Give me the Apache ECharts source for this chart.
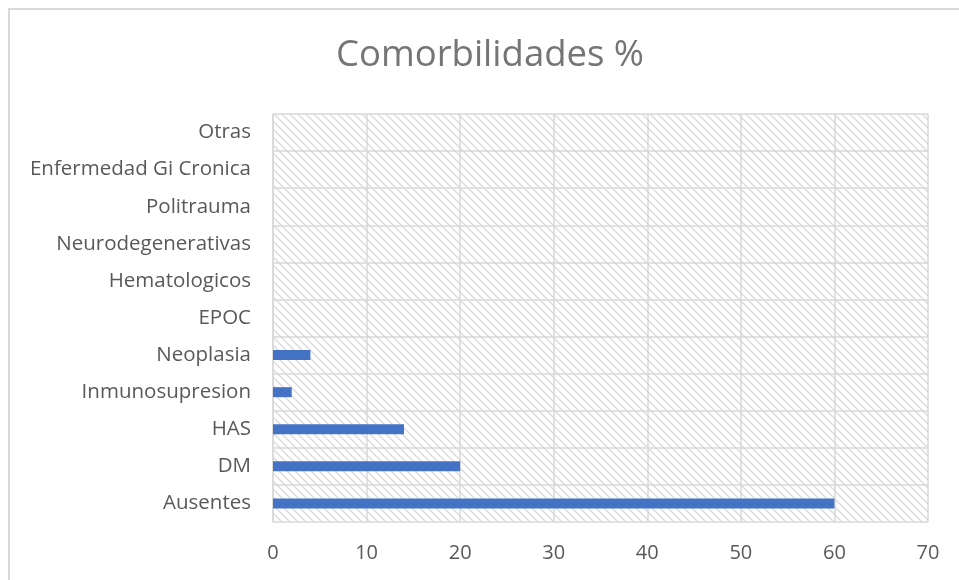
<!DOCTYPE html>
<html>
<head>
<meta charset="utf-8">
<script src="https://cdn.jsdelivr.net/npm/echarts@6/dist/echarts.min.js"></script>
<style>
html,body{margin:0;padding:0;background:#fff;}
#chart{width:959px;height:580px;}
</style>
</head>
<body>
<div id="chart"></div>
<script>
var titleText = 'Comorbilidades %';
var categories = ['Ausentes','DM','HAS','Inmunosupresion','Neoplasia','EPOC','Hematologicos','Neurodegenerativas','Politrauma','Enfermedad Gi Cronica','Otras'];
var values = [60, 20, 14, 2, 4, 0, 0, 0, 0, 0, 0];
var xTicks = {min: 0, max: 70, interval: 10};

var tile = document.createElement('canvas');
tile.width = 8; tile.height = 8;
var ctx = tile.getContext('2d');
ctx.fillStyle = '#ffffff';
ctx.fillRect(0,0,8,8);
ctx.strokeStyle = '#dcdcdc';
ctx.lineWidth = 1.5;
ctx.beginPath();
ctx.moveTo(-2,-2); ctx.lineTo(10,10);
ctx.moveTo(-10,-2); ctx.lineTo(2,10);
ctx.moveTo(6,-2); ctx.lineTo(18,10);
ctx.stroke();

var chart = echarts.init(document.getElementById('chart'), null, {renderer:'canvas'});
var font = 'Open Sans, sans-serif';
chart.setOption({
  animation: false,
  backgroundColor: '#ffffff',
  title: {
    text: titleText,
    left: 485, top: 32, textAlign: 'center',
    textStyle: {color: '#757575', fontSize: 36.5, fontWeight: 'normal', fontFamily: font}
  },
  graphic: [{
    type: 'rect', shape: {x: 9, y: 9, width: 980, height: 600},
    style: {fill: null, stroke: '#d9d9d9', lineWidth: 2}, silent: true
  }],
  grid: {
    left: 273, right: 31, top: 114, bottom: 58,
    show: true, borderWidth: 0,
    backgroundColor: {image: tile, repeat: 'repeat'}
  },
  xAxis: {
    type: 'value', min: xTicks.min, max: xTicks.max, interval: xTicks.interval,
    axisLine: {show: false}, axisTick: {show: false},
    axisLabel: {color: '#595959', fontSize: 20, fontFamily: font, margin: 21},
    splitLine: {show: true, lineStyle: {color: '#d9d9d9', width: 1.5}}
  },
  yAxis: {
    type: 'category', data: categories, boundaryGap: true,
    axisLine: {show: true, lineStyle: {color: '#d9d9d9', width: 1.5}},
    axisTick: {show: false},
    axisLabel: {color: '#595959', fontSize: 20.5, fontFamily: font, margin: 22},
    splitLine: {show: true, lineStyle: {color: '#d9d9d9', width: 1.5}}
  },
  series: [{
    type: 'bar', data: values, barWidth: 10,
    itemStyle: {color: '#4472c4'}
  }]
});
</script>
</body>
</html>
